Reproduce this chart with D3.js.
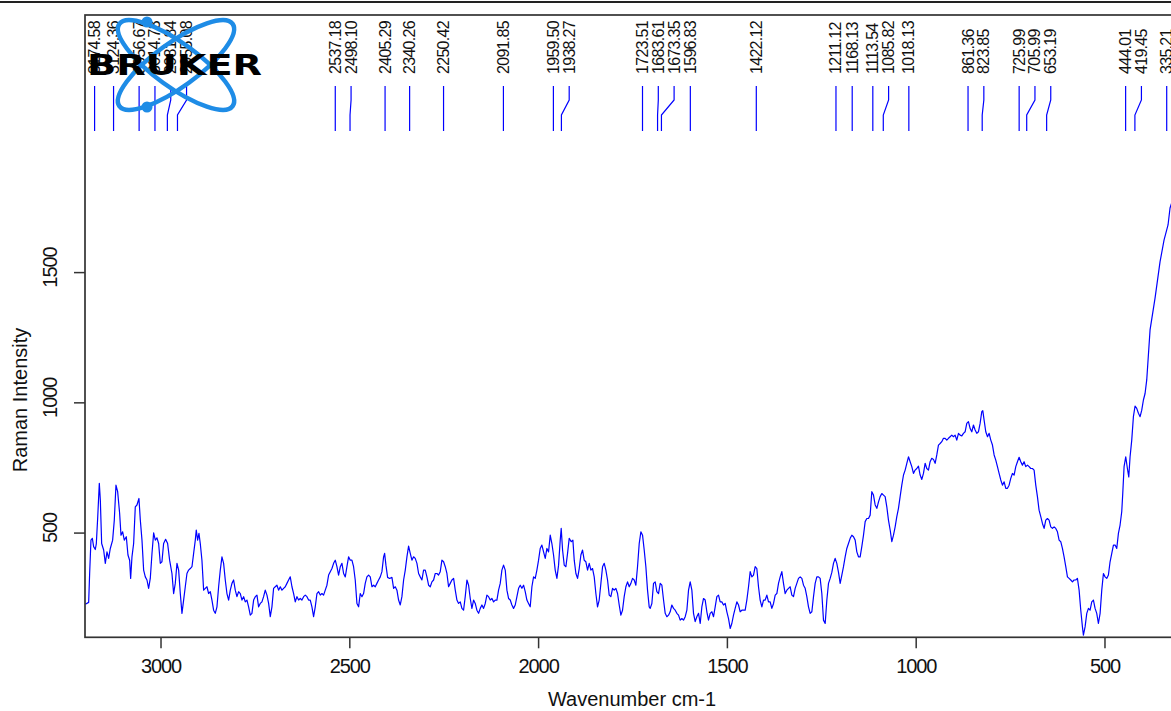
<!DOCTYPE html>
<html>
<head>
<meta charset="utf-8">
<script src="https://cdn.jsdelivr.net/npm/d3@7"></script>
<style>
    html, body { margin: 0; padding: 0; background: #fff; overflow: hidden; }
    svg { display: block; font-family: "Liberation Sans", Arial, sans-serif; }
</style>
</head>
<body>
<div class="ramanChart"></div>
<script>
// ----- DATA -----------------------------------------------------------
const xTicks = [3000, 2500, 2000, 1500, 1000, 500];
const yTicks = [500, 1000, 1500];

// picked peak positions (cm-1)
const peakPositions = [3174.58, 3124.36, 3056.67, 3014.73, 2981.84, 2955.08, 2537.18, 2498.10,
    2405.29, 2340.26, 2250.42, 2091.85, 1959.50, 1938.27, 1723.51, 1683.61, 1673.35, 1596.83,
    1422.12, 1211.12, 1168.13, 1113.54, 1085.82, 1018.13, 861.36, 823.85, 725.99, 705.99,
    653.19, 444.01, 419.45, 335.21];

// [wavenumber, raman intensity]
const spectrum = [
[3199.2,225],[3190.3,232],[3187.7,343],[3184.2,471],[3180.6,478],[3177.1,446],[3172.7,435],[3170.0,458],[3166.5,554],[3162.1,689],[3159.4,625],[3155.9,458],[3150.6,433],[3146.2,382],[3141.8,426],[3137.4,401],[3133.0,439],[3126.8,471],[3122.4,548],[3118.0,682],[3113.5,657],[3108.3,574],[3104.7,490],[3100.3,503],[3095.9,471],[3090.6,484],[3086.2,414],[3081.8,394],[3079.1,324],[3075.6,407],[3071.2,458],[3066.8,599],[3062.4,606],[3057.1,631],[3053.5,548],[3049.1,471],[3044.7,356],[3040.3,330],[3035.9,318],[3031.5,286],[3027.1,324],[3022.6,420],[3018.2,499],[3013.8,471],[3009.4,480],[3005.0,458],[3000.6,382],[2996.2,388],[2991.8,458],[2986.5,474],[2981.2,458],[2975.9,394],[2969.7,343],[2965.3,266],[2960.9,305],[2956.4,382],[2952.0,356],[2947.6,266],[2943.2,190],[2938.8,241],[2934.4,292],[2930.0,343],[2925.6,356],[2921.1,362],[2916.7,369],[2912.3,420],[2907.9,471],[2905.3,510],[2901.7,471],[2898.2,497],[2894.7,458],[2890.3,394],[2885.8,279],[2881.4,286],[2877.0,292],[2872.6,266],[2868.2,273],[2863.8,241],[2859.4,202],[2855.0,190],[2850.5,215],[2846.1,292],[2841.7,356],[2837.3,407],[2832.9,382],[2828.5,318],[2824.1,266],[2819.6,241],[2815.2,279],[2810.8,305],[2806.4,318],[2802.0,279],[2797.6,254],[2793.2,273],[2788.7,266],[2784.3,241],[2779.9,254],[2775.5,234],[2771.1,241],[2766.7,215],[2762.3,183],[2757.9,190],[2753.4,241],[2749.0,254],[2744.6,260],[2740.2,215],[2735.8,228],[2731.4,234],[2727.0,254],[2722.6,279],[2718.1,260],[2713.7,228],[2709.3,177],[2704.9,215],[2700.5,286],[2696.1,292],[2691.7,298],[2687.3,279],[2682.8,292],[2678.4,279],[2674.0,286],[2669.6,292],[2665.2,305],[2660.8,318],[2656.4,330],[2651.9,292],[2647.5,266],[2643.1,234],[2638.7,254],[2634.3,241],[2629.9,247],[2625.5,241],[2621.0,254],[2616.6,260],[2612.2,254],[2607.8,241],[2603.4,241],[2599.0,215],[2594.6,177],[2590.2,215],[2585.7,266],[2581.3,273],[2576.9,260],[2572.5,266],[2568.1,260],[2563.7,279],[2559.3,298],[2554.8,337],[2550.4,350],[2546.0,362],[2541.6,382],[2537.2,394],[2532.8,369],[2528.4,337],[2523.9,369],[2519.5,382],[2515.1,343],[2510.7,330],[2506.3,369],[2501.9,407],[2497.5,394],[2493.1,394],[2488.7,369],[2484.3,318],[2479.8,228],[2475.4,215],[2471.0,266],[2466.6,254],[2462.2,266],[2457.8,305],[2453.4,330],[2448.9,337],[2444.5,330],[2440.1,292],[2435.7,298],[2431.3,292],[2426.9,305],[2422.5,318],[2418.0,330],
[2413.6,350],[2409.2,407],[2406.5,420],[2403.0,375],[2398.6,328],[2393.3,324],[2387.1,328],[2382.7,286],[2378.3,292],[2373.9,279],[2369.5,241],[2365.1,222],[2360.7,254],[2356.2,318],[2351.8,356],[2347.4,407],[2343.0,448],[2338.6,420],[2334.2,394],[2329.8,407],[2325.4,401],[2320.9,382],[2316.5,343],[2312.1,330],[2307.7,318],[2303.3,356],[2298.9,356],[2294.5,330],[2290.0,298],[2285.6,292],[2281.2,311],[2276.8,318],[2272.4,343],[2268.0,343],[2263.6,337],[2259.2,350],[2254.7,394],[2250.3,388],[2245.9,369],[2241.5,343],[2237.1,292],[2232.7,305],[2228.3,318],[2223.8,324],[2219.4,279],[2215.0,241],[2210.6,228],[2206.2,234],[2201.8,209],[2197.4,202],[2193.0,254],[2188.5,318],[2184.1,298],[2179.7,247],[2175.3,209],[2170.9,241],[2166.5,228],[2162.1,202],[2157.6,190],[2153.2,209],[2148.8,222],[2144.4,209],[2140.0,228],[2135.6,260],[2131.2,254],[2126.8,241],[2122.3,247],[2117.9,234],[2113.5,241],[2109.1,241],[2104.7,279],[2100.3,305],[2095.9,356],[2091.5,375],[2087.0,356],[2082.6,279],[2078.2,247],[2073.8,241],[2069.4,222],[2065.0,209],[2060.6,222],[2056.1,254],[2051.7,286],[2047.3,298],[2042.9,286],[2038.5,298],[2034.1,273],[2029.7,241],[2025.3,228],[2020.9,215],[2016.4,292],[2012.0,330],[2007.6,324],[2003.2,356],[1998.8,394],[1994.4,439],[1990.0,452],[1985.5,426],[1981.1,401],[1976.7,439],[1972.3,426],[1967.9,490],[1963.5,458],[1959.1,414],[1954.7,356],[1950.2,324],[1945.8,375],[1941.4,471],[1938.8,516],[1935.2,433],[1930.8,375],[1926.4,369],[1922.0,420],[1917.6,478],[1912.3,465],[1907.9,471],[1904.3,394],[1899.9,343],[1895.5,324],[1891.1,362],[1886.7,414],[1882.3,433],[1877.9,394],[1873.5,388],[1869.0,356],[1864.6,382],[1860.2,356],[1855.8,362],[1851.4,330],[1847.0,266],[1842.6,215],[1838.2,241],[1833.7,305],[1829.3,369],[1824.9,382],[1820.5,356],[1816.1,318],[1811.7,260],[1807.3,254],[1802.8,286],[1798.4,279],[1794.0,286],[1789.6,266],[1785.2,222],[1780.8,183],[1776.4,202],[1772.0,254],[1767.5,292],[1763.1,311],[1758.7,292],[1754.3,305],[1749.9,324],[1745.5,318],[1741.1,298],[1736.7,369],[1732.2,458],[1727.8,503],[1723.4,490],[1719.0,433],[1714.6,369],[1710.2,279],[1705.8,215],
[1703.1,209],[1698.7,228],[1694.3,305],[1689.9,311],[1685.5,273],[1681.1,266],[1676.6,305],[1672.2,298],[1667.8,241],[1663.4,190],[1659.0,177],[1654.6,183],[1650.2,196],[1645.8,222],[1641.3,209],[1636.9,202],[1632.5,190],[1628.1,183],[1623.7,164],[1619.3,170],[1614.9,164],[1610.4,177],[1606.0,202],[1601.6,279],[1597.2,311],[1592.8,279],[1588.4,190],[1584.0,158],[1579.6,177],[1575.1,190],[1570.7,151],[1566.3,215],[1561.9,247],[1557.5,241],[1553.1,196],[1548.7,164],[1544.3,190],[1539.8,196],[1535.4,177],[1531.0,215],[1526.6,254],[1522.2,260],[1517.8,234],[1513.4,234],[1508.9,222],[1504.5,228],[1500.1,196],[1495.7,170],[1491.3,132],[1486.9,151],[1482.5,183],[1478.1,209],[1473.6,234],[1469.2,222],[1464.8,196],[1460.4,202],[1456.0,202],[1451.6,202],[1447.2,241],[1442.7,292],[1438.3,350],[1433.9,330],[1429.5,337],[1425.1,369],[1420.7,362],[1416.3,292],[1411.9,241],[1407.4,215],[1403.0,241],[1398.6,241],[1394.2,260],[1389.8,234],[1385.4,234],[1381.0,209],[1376.5,228],[1372.1,260],[1367.7,266],[1363.3,305],[1358.9,330],[1354.5,350],[1350.1,305],[1345.7,266],[1341.2,279],[1336.8,286],[1332.4,292],[1328.0,260],[1323.6,254],[1319.2,286],[1314.8,305],[1310.4,324],[1305.9,330],[1301.5,324],[1297.1,298],[1292.7,286],[1288.3,254],[1283.9,215],[1279.5,190],[1275.0,196],[1270.6,254],[1266.2,305],[1261.8,330],[1257.4,330],[1253.0,324],[1248.6,266],[1244.2,164],[1239.7,151],[1235.3,241],[1230.9,305],[1226.5,324],[1222.1,347],[1217.7,382],[1213.3,401],[1208.9,382],[1204.4,347],[1200.0,305],[1195.6,337],[1191.2,369],[1186.8,407],[1182.4,439],[1178.0,458],[1173.5,478],[1169.1,490],[1164.7,484],[1160.3,471],[1155.9,426],[1151.5,407],[1147.1,407],[1142.7,446],[1138.2,490],[1133.8,542],[1129.4,554],[1125.0,554],[1120.6,567],[1116.2,657],[1111.8,644],[1107.3,606],[1102.9,593],[1098.5,618],[1094.1,638],[1089.7,650],[1085.3,644],[1080.9,638],[1076.5,599],[1072.1,548],[1067.6,510],[1063.2,465],[1058.8,490],[1054.4,522],[1050.0,561],[1045.6,593],[1041.2,638],[1036.8,682],[1032.3,721],[1027.9,740],[1023.5,766],[1019.1,791],
[1014.7,772],[1010.3,753],[1005.9,727],[1001.5,740],[997.1,746],[992.7,755],[988.2,721],[983.8,704],[979.4,727],[975.0,766],[970.6,746],[966.2,740],[961.8,772],[957.4,785],[952.9,781],[948.5,766],[944.1,798],[939.7,836],[935.3,842],[930.9,849],[926.5,862],[922.0,862],[917.6,855],[913.2,862],[908.8,868],[904.4,874],[900.0,868],[895.6,874],[891.2,855],[886.7,881],[882.3,874],[877.9,871],[873.5,881],[869.1,887],[864.7,919],[860.3,926],[855.9,900],[851.4,887],[847.0,913],[842.6,894],[838.2,881],[833.8,887],[829.4,919],[825.0,964],[822.3,968],[818.8,932],[814.4,887],[809.8,868],[805.5,881],[801.1,855],[796.7,836],[792.3,798],[787.9,778],[783.5,753],[779.1,727],[774.7,702],[770.2,682],[765.8,695],[761.4,670],[757.0,670],[752.6,682],[748.2,708],[743.8,727],[739.4,721],[734.9,753],[730.5,772],[726.1,789],[721.7,772],[717.3,759],[712.9,772],[708.5,753],[704.0,759],[699.6,753],[695.2,746],[690.8,746],[686.4,740],[682.0,682],[677.6,638],[673.2,586],[668.7,561],[664.3,535],[659.9,516],[655.5,548],[651.1,554],[646.7,548],[642.3,522],[637.8,516],[633.4,522],[629.0,516],[624.6,503],[620.2,471],[615.8,465],[611.4,439],[607.0,407],[602.5,369],[598.1,330],[593.7,324],[589.3,318],[584.9,311],[580.5,318],[576.1,318],[571.7,324],[567.2,279],[562.8,202],[558.4,138],[555.8,106],[551.4,138],[546.9,190],[542.5,209],[538.1,202],[533.7,234],[529.3,241],[524.9,209],[520.5,190],[516.1,151],[511.6,190],[507.2,279],[502.8,343],[498.4,330],[494.0,324],[489.6,337],[485.2,388],[480.7,420],[476.3,452],[471.9,452],[467.5,439],[463.1,497],[458.7,529],[454.3,580],[451.6,650],[448.1,753],[443.7,791],[439.3,746],[435.7,714],[432.2,791],[427.8,855],[423.4,945],[419.0,986],[414.6,977],[410.1,958],[405.7,945],[401.3,970],[396.9,1009],[392.5,1034],[388.1,1086],
[379.3,1278],[366.1,1400],[352.9,1539],[342.3,1623],[331.7,1681],[326.4,1746],[321.0,1770]
];

// ----- CONSTANTS ------------------------------------------------------
const WIDTH = 1171, HEIGHT = 711;
const SPECTRUM_BLUE = "#0000ff";
const LOGO_BLUE = "#1e8ce6";
const LABEL_GAP = 15.8;     // min spacing between peak labels


// ----- PRIVATE FUNCTIONS ----------------------------------------------
function _drawRamanChart()
{
    const plot = { left: 85, right: 1180, top: 15, bottom: 637.3 };

    let svg = d3.select(".ramanChart").append("svg")
                .attr("width", WIDTH)
                .attr("height", HEIGHT);

    svg.append("rect")
        .attr("width", WIDTH)
        .attr("height", HEIGHT)
        .attr("fill", "#fff");

    // window edge line across the top
    svg.append("line")
        .attr("x1", 0).attr("x2", WIDTH)
        .attr("y1", 2).attr("y2", 2)
        .attr("stroke", "#222")
        .attr("stroke-width", 2);

    const x = d3.scaleLinear()
        .domain([3200, 300])
        .range([plot.left, plot.right]);

    const y = d3.scaleLinear()
        .domain([98, 2487])
        .range([plot.bottom, plot.top]);

    svg.append("clipPath")
        .attr("id", "plotClip")
        .append("rect")
        .attr("x", plot.left)
        .attr("y", plot.top)
        .attr("width", plot.right - plot.left)
        .attr("height", plot.bottom - plot.top);

    // spectrum trace
    let line = d3.line()
        .x(d => x(d[0]))
        .y(d => y(d[1]));

    svg.append("path")
        .datum(spectrum)
        .attr("clip-path", "url(#plotClip)")
        .attr("fill", "none")
        .attr("stroke", SPECTRUM_BLUE)
        .attr("stroke-width", 1.2)
        .attr("stroke-linejoin", "round")
        .attr("d", line);

    // plot box
    svg.append("rect")
        .attr("x", plot.left)
        .attr("y", plot.top)
        .attr("width", plot.right - plot.left)
        .attr("height", plot.bottom - plot.top)
        .attr("fill", "none")
        .attr("stroke", "#333")
        .attr("stroke-width", 1.7);

    // x axis
    let xAxis = svg.append("g")
        .attr("transform", "translate(0," + plot.bottom + ")")
        .call(d3.axisBottom(x).tickValues(xTicks).tickSize(11).tickPadding(11).tickFormat(d3.format("d")));

    // y axis
    let yAxis = svg.append("g")
        .attr("transform", "translate(" + plot.left + ",0)")
        .call(d3.axisLeft(y).tickValues(yTicks).tickSize(11).tickFormat(d3.format("d")));

    [xAxis, yAxis].forEach(ax => {
        ax.select(".domain").remove();
        ax.selectAll(".tick line").attr("stroke", "#333").attr("stroke-width", 1.5);
        ax.selectAll(".tick text")
            .attr("fill", "#111")
            .style("font-family", "'Liberation Sans', Arial, sans-serif")
            .style("font-size", "20px")
            .style("letter-spacing", "-1.1px");
    });

    // y tick labels are drawn vertically, a little above the tick
    yAxis.selectAll(".tick text")
        .attr("x", null)
        .attr("dy", null)
        .attr("text-anchor", "middle")
        .attr("transform", "translate(-28,-5) rotate(-90)");

    // axis titles
    svg.append("text")
        .text("Wavenumber cm-1")
        .attr("x", 632)
        .attr("y", 706)
        .attr("text-anchor", "middle")
        .attr("fill", "#111")
        .style("font-size", "20px");

    svg.append("text")
        .text("Raman Intensity")
        .attr("text-anchor", "middle")
        .attr("transform", "translate(27,400) rotate(-90)")
        .attr("fill", "#111")
        .style("font-size", "20px");

    // peak labels, pushed apart where they would overlap
    let prev = -Infinity;
    let peaks = peakPositions.slice()
        .sort((a, b) => b - a)
        .map(p => {
            const px = x(p);
            const lx = Math.max(px, prev + LABEL_GAP);
            prev = lx;
            return { value: p, px: px, lx: lx };
        });

    let peakGroup = svg.append("g").classed("ramanChart__peaks", true);

    peakGroup.selectAll("path")
        .data(peaks)
        .enter()
        .append("path")
        .attr("fill", "none")
        .attr("stroke", SPECTRUM_BLUE)
        .attr("stroke-width", 1.2)
        .attr("d", d => {
            if( Math.abs(d.lx - d.px) < 0.3 )
            {
                return "M" + d.px + ",86V131";
            }
            return "M" + d.lx + ",86V100L" + d.px + ",115V131";
        });

    peakGroup.selectAll("text")
        .data(peaks)
        .enter()
        .append("text")
        .text(d => d.value.toFixed(2))
        .attr("transform", d => "translate(" + (d.lx + 5.5) + ",74) rotate(-90)")
        .attr("fill", "#111")
        .style("font-size", "16px")
        .style("letter-spacing", "-0.7px");

    _drawLogo(svg);
}

function _drawLogo(svg)
{
    // Bruker atom logo, drawn over the peak labels
    let logo = svg.append("g").classed("ramanChart__logo", true);
    const cx = 176, cy = 65;

    [36, -36].forEach(angle => {
        logo.append("ellipse")
            .attr("cx", 0).attr("cy", 0)
            .attr("rx", 70).attr("ry", 22)
            .attr("transform", "translate(" + cx + "," + cy + ") rotate(" + angle + ")")
            .attr("fill", "none")
            .attr("stroke", LOGO_BLUE)
            .attr("stroke-width", 4.5);
    });

    [[147, 22], [147, 107]].forEach(p => {
        logo.append("circle")
            .attr("cx", p[0]).attr("cy", p[1])
            .attr("r", 5.5)
            .attr("fill", LOGO_BLUE);
    });

    logo.append("text")
        .text("BRUKER")
        .attr("x", 87)
        .attr("y", 75)
        .attr("textLength", 175)
        .attr("lengthAdjust", "spacingAndGlyphs")
        .attr("fill", "#000")
        .style("font-family", "'DejaVu Sans', sans-serif")
        .style("font-weight", "bold")
        .style("font-size", "28px");
}

_drawRamanChart();
</script>
</body>
</html>
